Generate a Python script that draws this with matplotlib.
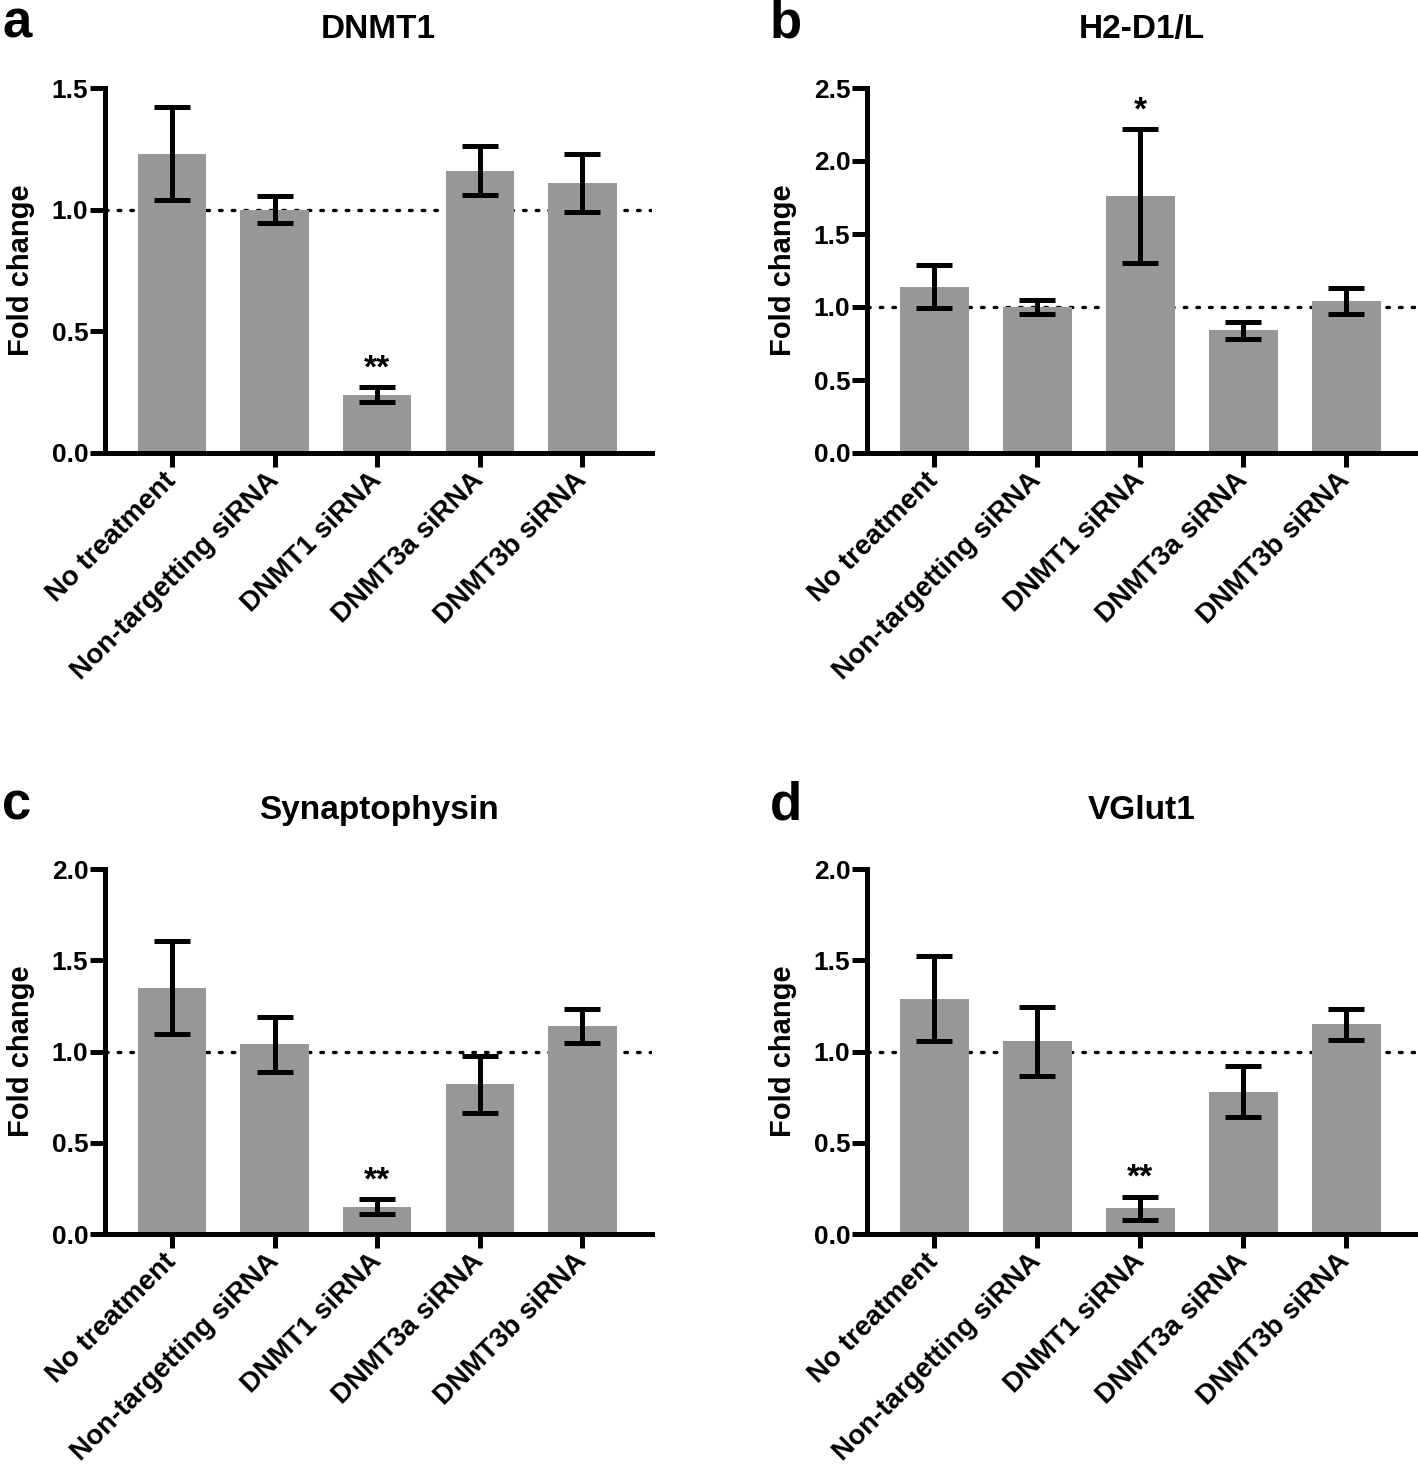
import numpy as np
import matplotlib
matplotlib.use('Agg')
from matplotlib import pyplot as plt

plt.rcParams['font.family'] = ['Liberation Sans', 'DejaVu Sans']
plt.rcParams['font.weight'] = 'bold'

groups = ['No treatment', 'Non-targetting siRNA', 'DNMT1 siRNA',
          'DNMT3a siRNA', 'DNMT3b siRNA']

# mean fold change and error for each gene
dnmt1_mean = [1.23, 1.00, 0.24, 1.16, 1.11]
dnmt1_err = [0.19, 0.055, 0.03, 0.10, 0.12]
h2_mean = [1.14, 1.00, 1.76, 0.84, 1.04]
h2_err = [0.145, 0.045, 0.46, 0.06, 0.09]
syn_mean = [1.35, 1.04, 0.15, 0.82, 1.14]
syn_err = [0.255, 0.15, 0.04, 0.155, 0.095]
vglut_mean = [1.29, 1.055, 0.14, 0.78, 1.15]
vglut_err = [0.235, 0.19, 0.065, 0.14, 0.085]

titles = ['DNMT1', 'H2-D1/L', 'Synaptophysin', 'VGlut1']
letters = ['a', 'b', 'c', 'd']
stars = ['**', '*', '**', '**']
star_idx = 2
ymax = [1.5, 2.5, 2.0, 2.0]

W, H = 1418, 1469
fig = plt.figure(figsize=(W / 100, H / 100), dpi=100)

# axes boxes in pixels: left, top, right, bottom
boxes = [(105, 88, 652, 453), (867, 88, 1416, 453),
         (105, 869, 652, 1234), (867, 869, 1416, 1234)]
letter_pos = [(2, 38), (770, 38), (2, 820), (770, 820)]

means = [dnmt1_mean, h2_mean, syn_mean, vglut_mean]
errs = [dnmt1_err, h2_err, syn_err, vglut_err]

lw = 3.6
for k in range(4):
    l, t, r, b = boxes[k]
    ax = fig.add_axes([l / W, 1 - b / H, (r - l) / W, (b - t) / H])
    x = np.arange(len(groups))
    ax.axhline(1.0, color='black', lw=2.4, ls=(0, (0.8, 3.0)),
               dash_capstyle='round', zorder=0)
    ax.bar(x, means[k], width=0.667, color='#979797', zorder=2)
    ax.errorbar(x, means[k], yerr=errs[k], fmt='none', ecolor='black',
                elinewidth=lw, capsize=13, capthick=lw, zorder=3)
    top = means[k][star_idx] + errs[k][star_idx]
    ax.annotate(stars[k], (star_idx, top), xytext=(0, 2),
                textcoords='offset points', ha='center', va='bottom',
                fontsize=24, fontweight='bold')

    ax.set_xlim(-0.653, 4.678)
    ax.set_ylim(0, ymax[k])
    ax.set_yticks(np.arange(0, ymax[k] + 0.01, 0.5))
    ax.set_yticklabels(['%.1f' % v for v in np.arange(0, ymax[k] + 0.01, 0.5)])
    ax.set_xticks(x)
    ax.set_xticklabels(groups, rotation=45, ha='right', va='center',
                       rotation_mode='anchor')
    for s in ['top', 'right']:
        ax.spines[s].set_visible(False)
    for s in ['left', 'bottom']:
        ax.spines[s].set_linewidth(lw)
    ax.tick_params(axis='y', length=11, width=lw, pad=1, labelsize=19)
    ax.tick_params(axis='x', length=10, width=lw, pad=7, labelsize=20)
    for lab in ax.get_xticklabels() + ax.get_yticklabels():
        lab.set_fontweight('bold')
    ax.set_ylabel('Fold change', fontsize=21, fontweight='bold', labelpad=12)
    ax.set_title(titles[k], fontsize=24, fontweight='bold', pad=36)

    lx, ly = letter_pos[k]
    fig.text(lx / W, 1 - ly / H, letters[k], fontsize=38, fontweight='bold',
             ha='left', va='baseline')

fig.savefig('out.png', dpi=100)
